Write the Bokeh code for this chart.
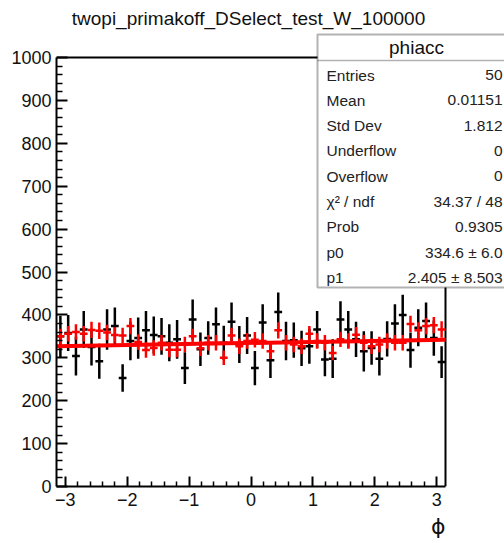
import math
from bokeh.plotting import figure
from bokeh.models import FixedTicker, Label, BoxAnnotation, ColumnDataSource, Title
from bokeh.embed import file_html
from bokeh.resources import INLINE

# ---------------- data ----------------
TITLE = "twopi_primakoff_DSelect_test_W_100000"
X_MIN, X_MAX = -math.pi, math.pi
N_BINS = 50

black_vals = [350, 358, 304, 366, 325, 292, 366, 374, 253, 339,
              346, 364, 353, 350, 335, 343, 276, 389, 320, 346,
              378, 335, 384, 331, 352, 276, 382, 294, 407, 339,
              341, 322, 327, 366, 296, 298, 389, 366, 343, 315,
              323, 298, 344, 380, 400, 318, 370, 386, 346, 290]
black_errs = [48, 42, 45, 43, 43, 41, 47, 43, 32, 45,
              48, 45, 43, 43, 43, 45, 37, 47, 39, 39,
              39, 40, 45, 43, 43, 40, 43, 41, 45, 45,
              41, 41, 41, 43, 39, 45, 43, 43, 41, 47,
              39, 39, 41, 45, 47, 41, 43, 43, 41, 37]

red_vals = [350, 356, 360, 356, 365, 363, 359, 353, 352, 374,
            337, 318, 323, 335, 319, 319, 331, 350, 322, 335,
            335, 300, 352, 327, 339, 342, 339, 315, 364, 335,
            331, 327, 356, 339, 335, 311, 343, 339, 354, 335,
            327, 331, 339, 335, 335, 379, 364, 374, 376, 366]
red_errs = [18, 18, 18, 18, 19, 19, 18, 18, 18, 19,
            18, 18, 18, 18, 18, 18, 18, 18, 18, 18,
            18, 17, 18, 18, 18, 18, 18, 18, 19, 18,
            18, 18, 18, 18, 18, 17, 18, 18, 18, 18,
            18, 18, 18, 18, 18, 19, 19, 19, 19, 19]

fit_p0 = 334.6
fit_p1 = 2.405

stat_header = "phiacc"
stat_names = ["Entries", "Mean", "Std Dev", "Underflow", "Overflow",
              "χ² / ndf", "Prob", "p0", "p1"]
stat_values = ["50", "0.01151", "1.812", "0", "0",
               "34.37 / 48", "0.9305", "334.6 ± 6.0", "2.405 ± 8.503"]

y_ticks = [0, 100, 200, 300, 400, 500, 600, 700, 800, 900, 1000]
x_ticks = [-3, -2, -1, 0, 1, 2, 3]
x_tick_labels = ["−3", "−2", "−1", "0", "1", "2", "3"]
x_title = "ϕ"

# ---------------- layout ----------------
W, H = 504, 543
L, R, T, B = 56, 445, 57, 486      # pixel box of the data area (x: -pi..pi, y: 0..1000)
Y_MIN, Y_MAX = 0, 1000
FONT = "Liberation Sans"


def px2x(px):
    return X_MIN + (px - L) * (X_MAX - X_MIN) / (R - L)


def py2y(py):
    return Y_MIN + (B - py) * (Y_MAX - Y_MIN) / (B - T)


# the frame spans from the left axis to the right window edge and up to the top,
# so that the title and the stats box (annotations) are not clipped
p = figure(width=W, height=H, x_range=(X_MIN, px2x(W)), y_range=(Y_MIN, py2y(0)),
           output_backend="svg", toolbar_location=None,
           min_border_left=L, min_border_right=0,
           min_border_top=0, min_border_bottom=H - B)
p.title.visible = False
p.xgrid.visible = False
p.ygrid.visible = False
p.background_fill_color = "white"
p.border_fill_color = "white"
p.outline_line_color = None

# axes
y_minor = [v for v in range(0, 1001, 20) if v % 100 != 0]
p.yaxis.ticker = FixedTicker(ticks=y_ticks, minor_ticks=y_minor)
x_minor = [round(-3 + 0.2 * i, 2) for i in range(31) if i % 5 != 0]
p.xaxis.ticker = FixedTicker(ticks=x_ticks, minor_ticks=x_minor)
p.xaxis.major_label_overrides = {t: s for t, s in zip(x_ticks, x_tick_labels)}
p.xaxis.bounds = (X_MIN, X_MAX)
p.yaxis.bounds = (Y_MIN, Y_MAX)
for ax in (p.xaxis[0], p.yaxis[0]):
    ax.axis_line_width = 2
    ax.axis_line_color = "black"
    ax.major_tick_out = 0
    ax.minor_tick_out = 0
    ax.major_tick_line_width = 2
    ax.minor_tick_line_width = 1.5
    ax.major_label_text_font = FONT
    ax.major_label_text_color = "#111111"
p.yaxis.major_tick_in = 11
p.yaxis.minor_tick_in = 6
p.xaxis.major_tick_in = 10
p.xaxis.minor_tick_in = 5
p.yaxis.major_label_text_font_size = "18px"
p.xaxis.major_label_text_font_size = "18px"
p.yaxis.major_label_standoff = 5
p.xaxis.major_label_standoff = 6

# frame top and right borders
p.line([X_MIN, X_MAX], [Y_MAX, Y_MAX], line_color="black", line_width=2)
p.line([X_MAX, X_MAX], [Y_MIN, Y_MAX], line_color="black", line_width=2)

# histograms
bw = (X_MAX - X_MIN) / N_BINS
centers = [X_MIN + (i + 0.5) * bw for i in range(N_BINS)]

bsrc = ColumnDataSource(dict(
    x=centers, y=black_vals,
    x0=[c - bw / 2 for c in centers], x1=[c + bw / 2 for c in centers],
    ylo=[v - e for v, e in zip(black_vals, black_errs)],
    yhi=[v + e for v, e in zip(black_vals, black_errs)]))
p.segment(x0="x", x1="x", y0="ylo", y1="yhi", source=bsrc, line_color="black", line_width=2.5)
p.segment(x0="x0", x1="x1", y0="y", y1="y", source=bsrc, line_color="black", line_width=2.5)

rsrc = ColumnDataSource(dict(
    x=centers, y=red_vals,
    x0=[c - bw / 2 for c in centers], x1=[c + bw / 2 for c in centers],
    ylo=[v - e for v, e in zip(red_vals, red_errs)],
    yhi=[v + e for v, e in zip(red_vals, red_errs)]))
p.segment(x0="x", x1="x", y0="ylo", y1="yhi", source=rsrc, line_color="#ff0000", line_width=2.5)
p.segment(x0="x0", x1="x1", y0="y", y1="y", source=rsrc, line_color="#ff0000", line_width=2.5)

# fit line
fx = [X_MIN, X_MAX]
fy = [fit_p0 + fit_p1 * v for v in fx]
p.line(fx, fy, line_color="#ff0000", line_width=4)

# title
p.add_layout(Label(x=px2x(248), y=py2y(18), text=TITLE, text_font=FONT,
                   text_font_size="19px", text_align="center", text_baseline="middle",
                   text_color="#111111", level="overlay"))

# x axis title, right-aligned below the axis
p.add_layout(Title(text=x_title, align="right", offset=W - 445,
                   text_font="DejaVu Sans", text_font_size="22px",
                   text_font_style="normal", text_color="#111111", standoff=6), "below")

# stats box
box_l, box_r, box_t, box_b = 317, 516, 34, 287
p.add_layout(BoxAnnotation(left=px2x(box_l), right=px2x(box_r), top=py2y(box_t), bottom=py2y(box_b),
                           fill_color="white", fill_alpha=1.0, line_color="black", line_width=2,
                           level="overlay"))
p.add_layout(BoxAnnotation(left=px2x(box_l), right=px2x(box_r), top=py2y(60), bottom=py2y(60),
                           fill_alpha=0, line_color="black", line_width=1.5, level="overlay"))
p.add_layout(Label(x=px2x(416), y=py2y(47), text=stat_header, text_font=FONT,
                   text_font_size="19px", text_align="center", text_baseline="middle",
                   text_color="#111111", level="overlay"))
row0, drow = 74.5, 25.3
for i, (nm, val) in enumerate(zip(stat_names, stat_values)):
    yy = py2y(row0 + i * drow)
    p.add_layout(Label(x=px2x(326), y=yy, text=nm, text_font=FONT, text_font_size="15.5px",
                       text_align="left", text_baseline="middle", text_color="#222222",
                       level="overlay"))
    p.add_layout(Label(x=px2x(502), y=yy, text=val, text_font=FONT, text_font_size="15.5px",
                       text_align="right", text_baseline="middle", text_color="#222222",
                       level="overlay"))

open("out.html", "w").write(file_html(p, INLINE))
